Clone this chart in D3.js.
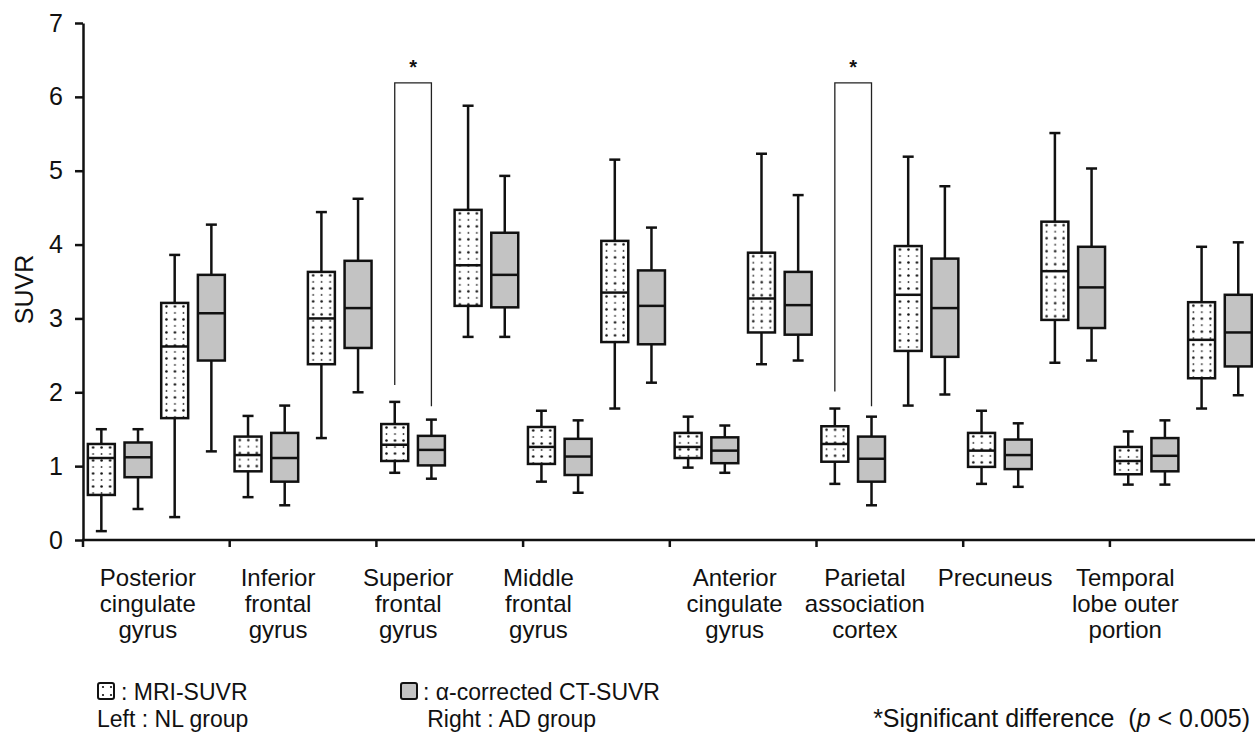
<!DOCTYPE html>
<html>
<head>
<meta charset="utf-8">
<script src="https://cdn.jsdelivr.net/npm/d3@7"></script>
<style>
  body { margin: 0; background: #fff; }
  svg { font-family: Arial, "Liberation Sans", sans-serif; }
</style>
</head>
<body>
<div id="chart"></div>
<script>
var svgWidth = 1255;
var svgHeight = 738;

// regions (label lines)
var regions = [
    ["Posterior", "cingulate", "gyrus"],
    ["Inferior", "frontal", "gyrus"],
    ["Superior", "frontal", "gyrus"],
    ["Middle", "frontal", "gyrus"],
    ["Anterior", "cingulate", "gyrus"],
    ["Parietal", "association", "cortex"],
    ["Precuneus"],
    ["Temporal", "lobe outer", "portion"]
];

// [min, q1, median, q3, max] per region
var nlMri = [
    [0.12, 0.61, 1.11, 1.30, 1.50],
    [0.58, 0.93, 1.15, 1.40, 1.68],
    [0.91, 1.07, 1.29, 1.57, 1.87],
    [0.79, 1.03, 1.26, 1.53, 1.75],
    [0.98, 1.11, 1.26, 1.45, 1.67],
    [0.76, 1.06, 1.30, 1.54, 1.78],
    [0.76, 0.99, 1.21, 1.45, 1.75],
    [0.75, 0.89, 1.07, 1.26, 1.47]
];
var nlCt = [
    [0.42, 0.85, 1.12, 1.32, 1.50],
    [0.47, 0.79, 1.11, 1.45, 1.82],
    [0.83, 1.01, 1.22, 1.41, 1.63],
    [0.64, 0.88, 1.13, 1.37, 1.62],
    [0.91, 1.04, 1.21, 1.39, 1.55],
    [0.47, 0.79, 1.10, 1.40, 1.67],
    [0.72, 0.96, 1.15, 1.36, 1.58],
    [0.75, 0.93, 1.14, 1.38, 1.62]
];
var adMri = [
    [0.31, 1.65, 2.62, 3.21, 3.86],
    [1.38, 2.38, 3.00, 3.63, 4.44],
    [2.75, 3.17, 3.72, 4.47, 5.88],
    [1.78, 2.68, 3.35, 4.05, 5.15],
    [2.38, 2.81, 3.27, 3.89, 5.23],
    [1.82, 2.56, 3.32, 3.98, 5.19],
    [2.40, 2.98, 3.64, 4.31, 5.51],
    [1.78, 2.19, 2.71, 3.22, 3.97]
];
var adCt = [
    [1.20, 2.43, 3.07, 3.59, 4.27],
    [2.00, 2.60, 3.14, 3.78, 4.62],
    [2.75, 3.15, 3.59, 4.16, 4.93],
    [2.13, 2.65, 3.17, 3.65, 4.23],
    [2.43, 2.78, 3.18, 3.63, 4.67],
    [1.97, 2.48, 3.14, 3.81, 4.79],
    [2.43, 2.87, 3.42, 3.97, 5.03],
    [1.96, 2.35, 2.81, 3.32, 4.03]
];

var yTicks = [0, 1, 2, 3, 4, 5, 6, 7];

// significance brackets: region index, top, left leg end, right leg end
var brackets = [
    { region: 2, top: 6.19, left: 2.10, right: 1.81 },
    { region: 5, top: 6.19, left: 2.01, right: 1.81 }
];

var series = [
    { key: "nlMri", values: nlMri, dotted: true },
    { key: "nlCt", values: nlCt, dotted: false },
    { key: "adMri", values: adMri, dotted: true },
    { key: "adCt", values: adCt, dotted: false }
];

var margin = { top: 23, right: 0, bottom: 198, left: 83 };
var grey = "#c3c3c3";
var ink = "#111";

var svg = d3.select("#chart")
    .append("svg")
    .attr("width", svgWidth)
    .attr("height", svgHeight);

var defs = svg.append("defs");

// scales
var xScale = d3.scaleBand()
    .domain(d3.range(regions.length))
    .range([margin.left, margin.left + 8 * 146.7]);

var subScale = d3.scaleBand()
    .domain(series.map(d => d.key))
    .range([0, xScale.bandwidth()])
    .paddingInner(0.265)
    .paddingOuter(0.1325);

var yScale = d3.scaleLinear()
    .domain([0, 7])
    .range([svgHeight - margin.bottom, margin.top]);

// y axis
var yAxis = svg.append("g")
    .attr("transform", `translate(${margin.left},0)`)
    .call(d3.axisLeft(yScale)
        .tickValues(yTicks)
        .tickFormat(d3.format("d"))
        .tickSize(8)
        .tickSizeOuter(0)
        .tickPadding(12));
yAxis.selectAll("path, line").attr("stroke", ink).attr("stroke-width", 2.5);
yAxis.selectAll("text")
    .attr("fill", ink)
    .style("font-size", "25px")
    .style("font-family", "Arial, 'Liberation Sans', sans-serif");

svg.append("text")
    .attr("transform", `translate(33, ${yScale(3.5) + 8}) rotate(-90)`)
    .attr("text-anchor", "middle")
    .attr("fill", ink)
    .style("font-size", "25px")
    .text("SUVR");

// x axis line and ticks on band edges
var xBase = yScale(0);
svg.append("line")
    .attr("x1", margin.left - 1)
    .attr("x2", svgWidth)
    .attr("y1", xBase)
    .attr("y2", xBase)
    .attr("stroke", ink)
    .attr("stroke-width", 2.5);

svg.append("g")
    .selectAll("line")
    .data(d3.range(regions.length))
    .enter()
    .append("line")
    .attr("x1", d => xScale(d))
    .attr("x2", d => xScale(d))
    .attr("y1", xBase)
    .attr("y2", xBase + 7)
    .attr("stroke", ink)
    .attr("stroke-width", 2.5);

// region labels (shifted left a bit as in the figure)
var labels = svg.append("g")
    .selectAll("text")
    .data(regions)
    .enter()
    .append("text")
    .attr("text-anchor", "middle")
    .attr("fill", ink)
    .style("font-size", "24px")
    .attr("transform", (d, i) => `translate(${xScale(i) + xScale.bandwidth() / 2 - 8.5 - 16.5 * (i % 4)}, ${xBase + 46})`);

labels.selectAll("tspan")
    .data(d => d)
    .enter()
    .append("tspan")
    .attr("x", 0)
    .attr("y", (d, i) => i * 26)
    .text(d => d);

// box plots
var boxW = subScale.bandwidth();
var capW = 11;

series.forEach(function(s) {
    s.values.forEach(function(v, i) {
        var cx = xScale(i) + subScale(s.key) + boxW / 2;
        var left = cx - boxW / 2;
        var g = svg.append("g");

        // whiskers
        g.append("line")
            .attr("x1", cx).attr("x2", cx)
            .attr("y1", yScale(v[0])).attr("y2", yScale(v[4]))
            .attr("stroke", ink).attr("stroke-width", 2.5);
        [v[0], v[4]].forEach(function(w) {
            g.append("line")
                .attr("x1", cx - capW / 2).attr("x2", cx + capW / 2)
                .attr("y1", yScale(w)).attr("y2", yScale(w))
                .attr("stroke", ink).attr("stroke-width", 2.5);
        });

        var fill = grey;
        if (s.dotted) {
            var pid = "dots-" + s.key + "-" + i;
            var pat = defs.append("pattern")
                .attr("id", pid)
                .attr("patternUnits", "userSpaceOnUse")
                .attr("x", left + 1)
                .attr("y", yScale(v[3]))
                .attr("width", 8.5)
                .attr("height", 13);
            pat.append("rect").attr("width", 8.5).attr("height", 13).attr("fill", "#fff");
            pat.append("circle").attr("cx", 4.25).attr("cy", 3.5).attr("r", 1.25).attr("fill", ink);
            pat.append("circle").attr("cx", 4.25).attr("cy", 10).attr("r", 0.9).attr("fill", "#333");
            fill = `url(#${pid})`;
        }

        g.append("rect")
            .attr("x", left)
            .attr("y", yScale(v[3]))
            .attr("width", boxW)
            .attr("height", yScale(v[1]) - yScale(v[3]))
            .attr("fill", fill)
            .attr("stroke", ink)
            .attr("stroke-width", 2.5);

        g.append("line")
            .attr("x1", left).attr("x2", left + boxW)
            .attr("y1", yScale(v[2])).attr("y2", yScale(v[2]))
            .attr("stroke", ink).attr("stroke-width", 2.5);
    });
});

// significance brackets
brackets.forEach(function(b) {
    var xl = xScale(b.region) + subScale("nlMri") + boxW / 2;
    var xr = xScale(b.region) + subScale("nlCt") + boxW / 2;
    svg.append("path")
        .attr("d", `M${xl},${yScale(b.left)}V${yScale(b.top)}H${xr}V${yScale(b.right)}`)
        .attr("fill", "none")
        .attr("stroke", "#222")
        .attr("stroke-width", 1.3);
    svg.append("text")
        .attr("x", (xl + xr) / 2)
        .attr("y", yScale(b.top) - 9)
        .attr("text-anchor", "middle")
        .attr("fill", ink)
        .style("font-size", "20px")
        .style("font-weight", "bold")
        .text("*");
});

// legend
var legend = svg.append("g").attr("fill", ink).style("font-size", "23px");

var lp = defs.append("pattern")
    .attr("id", "legendDots")
    .attr("patternUnits", "userSpaceOnUse")
    .attr("x", 98).attr("y", 682)
    .attr("width", 8).attr("height", 8);
lp.append("rect").attr("width", 8).attr("height", 8).attr("fill", "#fff");
lp.append("circle").attr("cx", 5).attr("cy", 5).attr("r", 1.1).attr("fill", ink);

legend.append("rect")
    .attr("x", 98).attr("y", 683).attr("width", 16).attr("height", 16).attr("rx", 2)
    .attr("fill", "url(#legendDots)").attr("stroke", ink).attr("stroke-width", 2);
legend.append("text").attr("x", 121).attr("y", 700).text(": MRI-SUVR");
legend.append("text").attr("x", 97).attr("y", 727).text("Left : NL group");

legend.append("rect")
    .attr("x", 401).attr("y", 683).attr("width", 16).attr("height", 16).attr("rx", 2)
    .attr("fill", grey).attr("stroke", ink).attr("stroke-width", 2);
legend.append("text").attr("x", 423).attr("y", 700).text(": α-corrected CT-SUVR");
legend.append("text").attr("x", 596).attr("y", 727).attr("text-anchor", "end").text("Right : AD group");

var note = legend.append("text")
    .attr("x", 1250)
    .attr("y", 727)
    .attr("text-anchor", "end")
    .style("font-size", "25px")
    .style("white-space", "pre");
note.append("tspan").text("*Significant difference  (");
note.append("tspan").style("font-style", "italic").text("p");
note.append("tspan").text(" < 0.005)");
</script>
</body>
</html>
